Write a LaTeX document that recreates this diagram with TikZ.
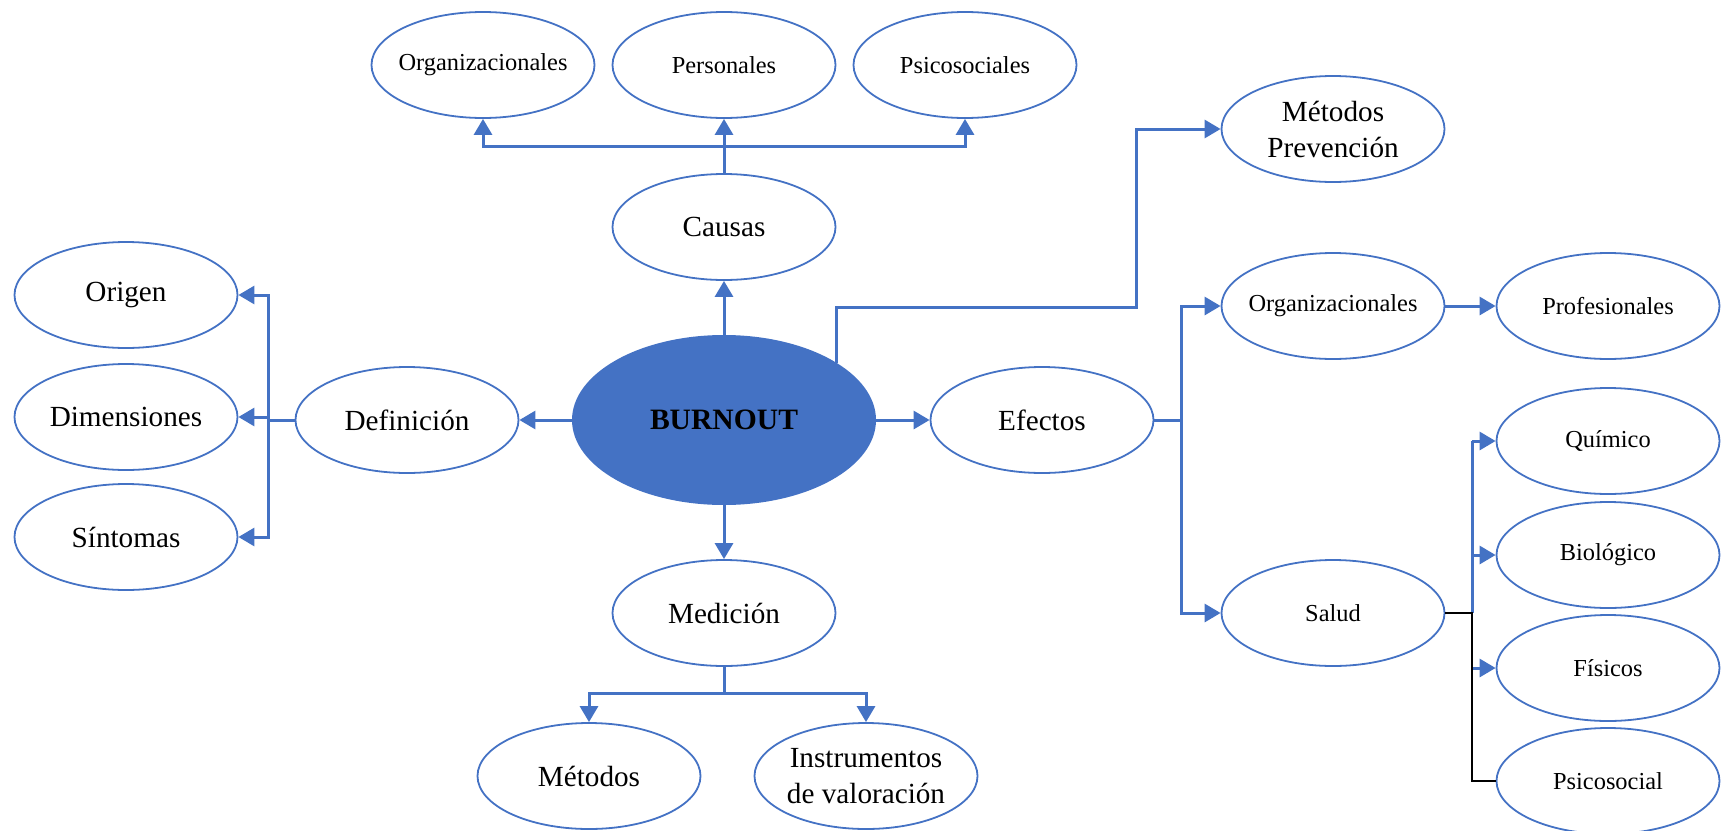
\documentclass[tikz,border=0pt]{standalone}
\usepackage{fontspec}
\setmainfont{Liberation Serif}
\usetikzlibrary{shapes.geometric}
\usetikzlibrary{arrows.meta}
\definecolor{burnblue}{HTML}{4472C4}

\begin{document}
\begin{tikzpicture}[x=0.5pt,y=-0.5pt,
  bubble/.style={ellipse,draw=burnblue,line width=0.9pt,minimum width=111.5pt,minimum height=53pt,
    inner xsep=-6pt,inner ysep=0pt,align=center,font=\fontsize{14.6}{18}\selectfont},
  smallbubble/.style={bubble,font=\fontsize{12.2}{14.6}\selectfont},
  link/.style={draw=burnblue,line width=1.5pt},
  conn/.style={link,-{Triangle[length=8pt,width=9pt]}},
  darklink/.style={draw=black,line width=1pt}]
\useasboundingbox (0,0) rectangle (1734,830);

% centre
\node[ellipse,fill=burnblue,minimum width=152pt,minimum height=85pt,
  font=\bfseries\fontsize{14.8}{18}\selectfont] (burnout) at (724,420) {BURNOUT};

% causas
\node[bubble] (causas) at (724,227) {Causas};
\node[smallbubble] (orgc) at (483,65) {Organizacionales};
\node[smallbubble] (pers) at (724,65) {Personales};
\node[smallbubble] (psic) at (965,65) {Psicosociales};

% definicion
\node[bubble] (defin) at (407,420) {Definición};
\node[bubble] (origen) at (126,295) {Origen};
\node[bubble] (dimen) at (126,417) {Dimensiones};
\node[bubble] (sint) at (126,537) {Síntomas};

% medicion
\node[bubble] (medic) at (724,613) {Medición};
\node[bubble] (metod) at (589,776) {Métodos};
\node[bubble] (instr) at (866,776) {Instrumentos\\de valoración};

% efectos
\node[bubble] (efect) at (1042,420) {Efectos};
\node[bubble] (prev) at (1333,129) {Métodos\\Prevención};
\node[smallbubble] (orgr) at (1333,306) {Organizacionales};
\node[smallbubble] (prof) at (1608,306) {Profesionales};
\node[smallbubble] (salud) at (1333,613) {Salud};
\node[smallbubble] (quim) at (1608,441) {Químico};
\node[smallbubble] (bio) at (1608,555) {Biológico};
\node[smallbubble] (fis) at (1608,668) {Físicos};
\node[smallbubble] (psico) at (1608,781) {Psicosocial};

\coordinate (cj) at (724,146);
\coordinate (dj) at (268,420);
\coordinate (mj) at (724,693);
\coordinate (ej) at (1181,420);
\coordinate (pj) at (1136,307);
\coordinate (sj) at (1472,613);

\draw[conn] (burnout.north) -- (causas.south);
\draw[conn] (causas.north) -- (pers.south);
\draw[conn] (cj) -| (orgc.south);
\draw[conn] (cj) -| (psic.south);

\draw[conn] (burnout.west) -- (defin.east);
\draw[link] (defin.west) -- (dj);
\draw[conn] (dj) |- (origen.east);
\draw[conn] (dj) |- (sint.east);
\draw[conn] (dj |- dimen.east) -- (dimen.east);

\draw[conn] (burnout.south) -- (medic.north);
\draw[link] (medic.south) -- (mj);
\draw[conn] (mj) -| (metod.north);
\draw[conn] (mj) -| (instr.north);

\draw[conn] (burnout.east) -- (efect.west);
\draw[conn] (burnout.27) |- (pj) |- (prev.west);
\draw[link] (efect.east) -- (ej);
\draw[conn] (ej) |- (orgr.west);
\draw[conn] (ej) |- (salud.west);
\draw[conn] (orgr.east) -- (prof.west);

\draw[link] (sj |- quim.west) -- (sj);
\draw[conn] (sj |- quim.west) -- (quim.west);
\draw[conn] (sj |- bio.west) -- (bio.west);
\draw[conn] (sj |- fis.west) -- (fis.west);
\draw[darklink] (salud.east) -- (sj) |- (psico.west);
\end{tikzpicture}
\end{document}
